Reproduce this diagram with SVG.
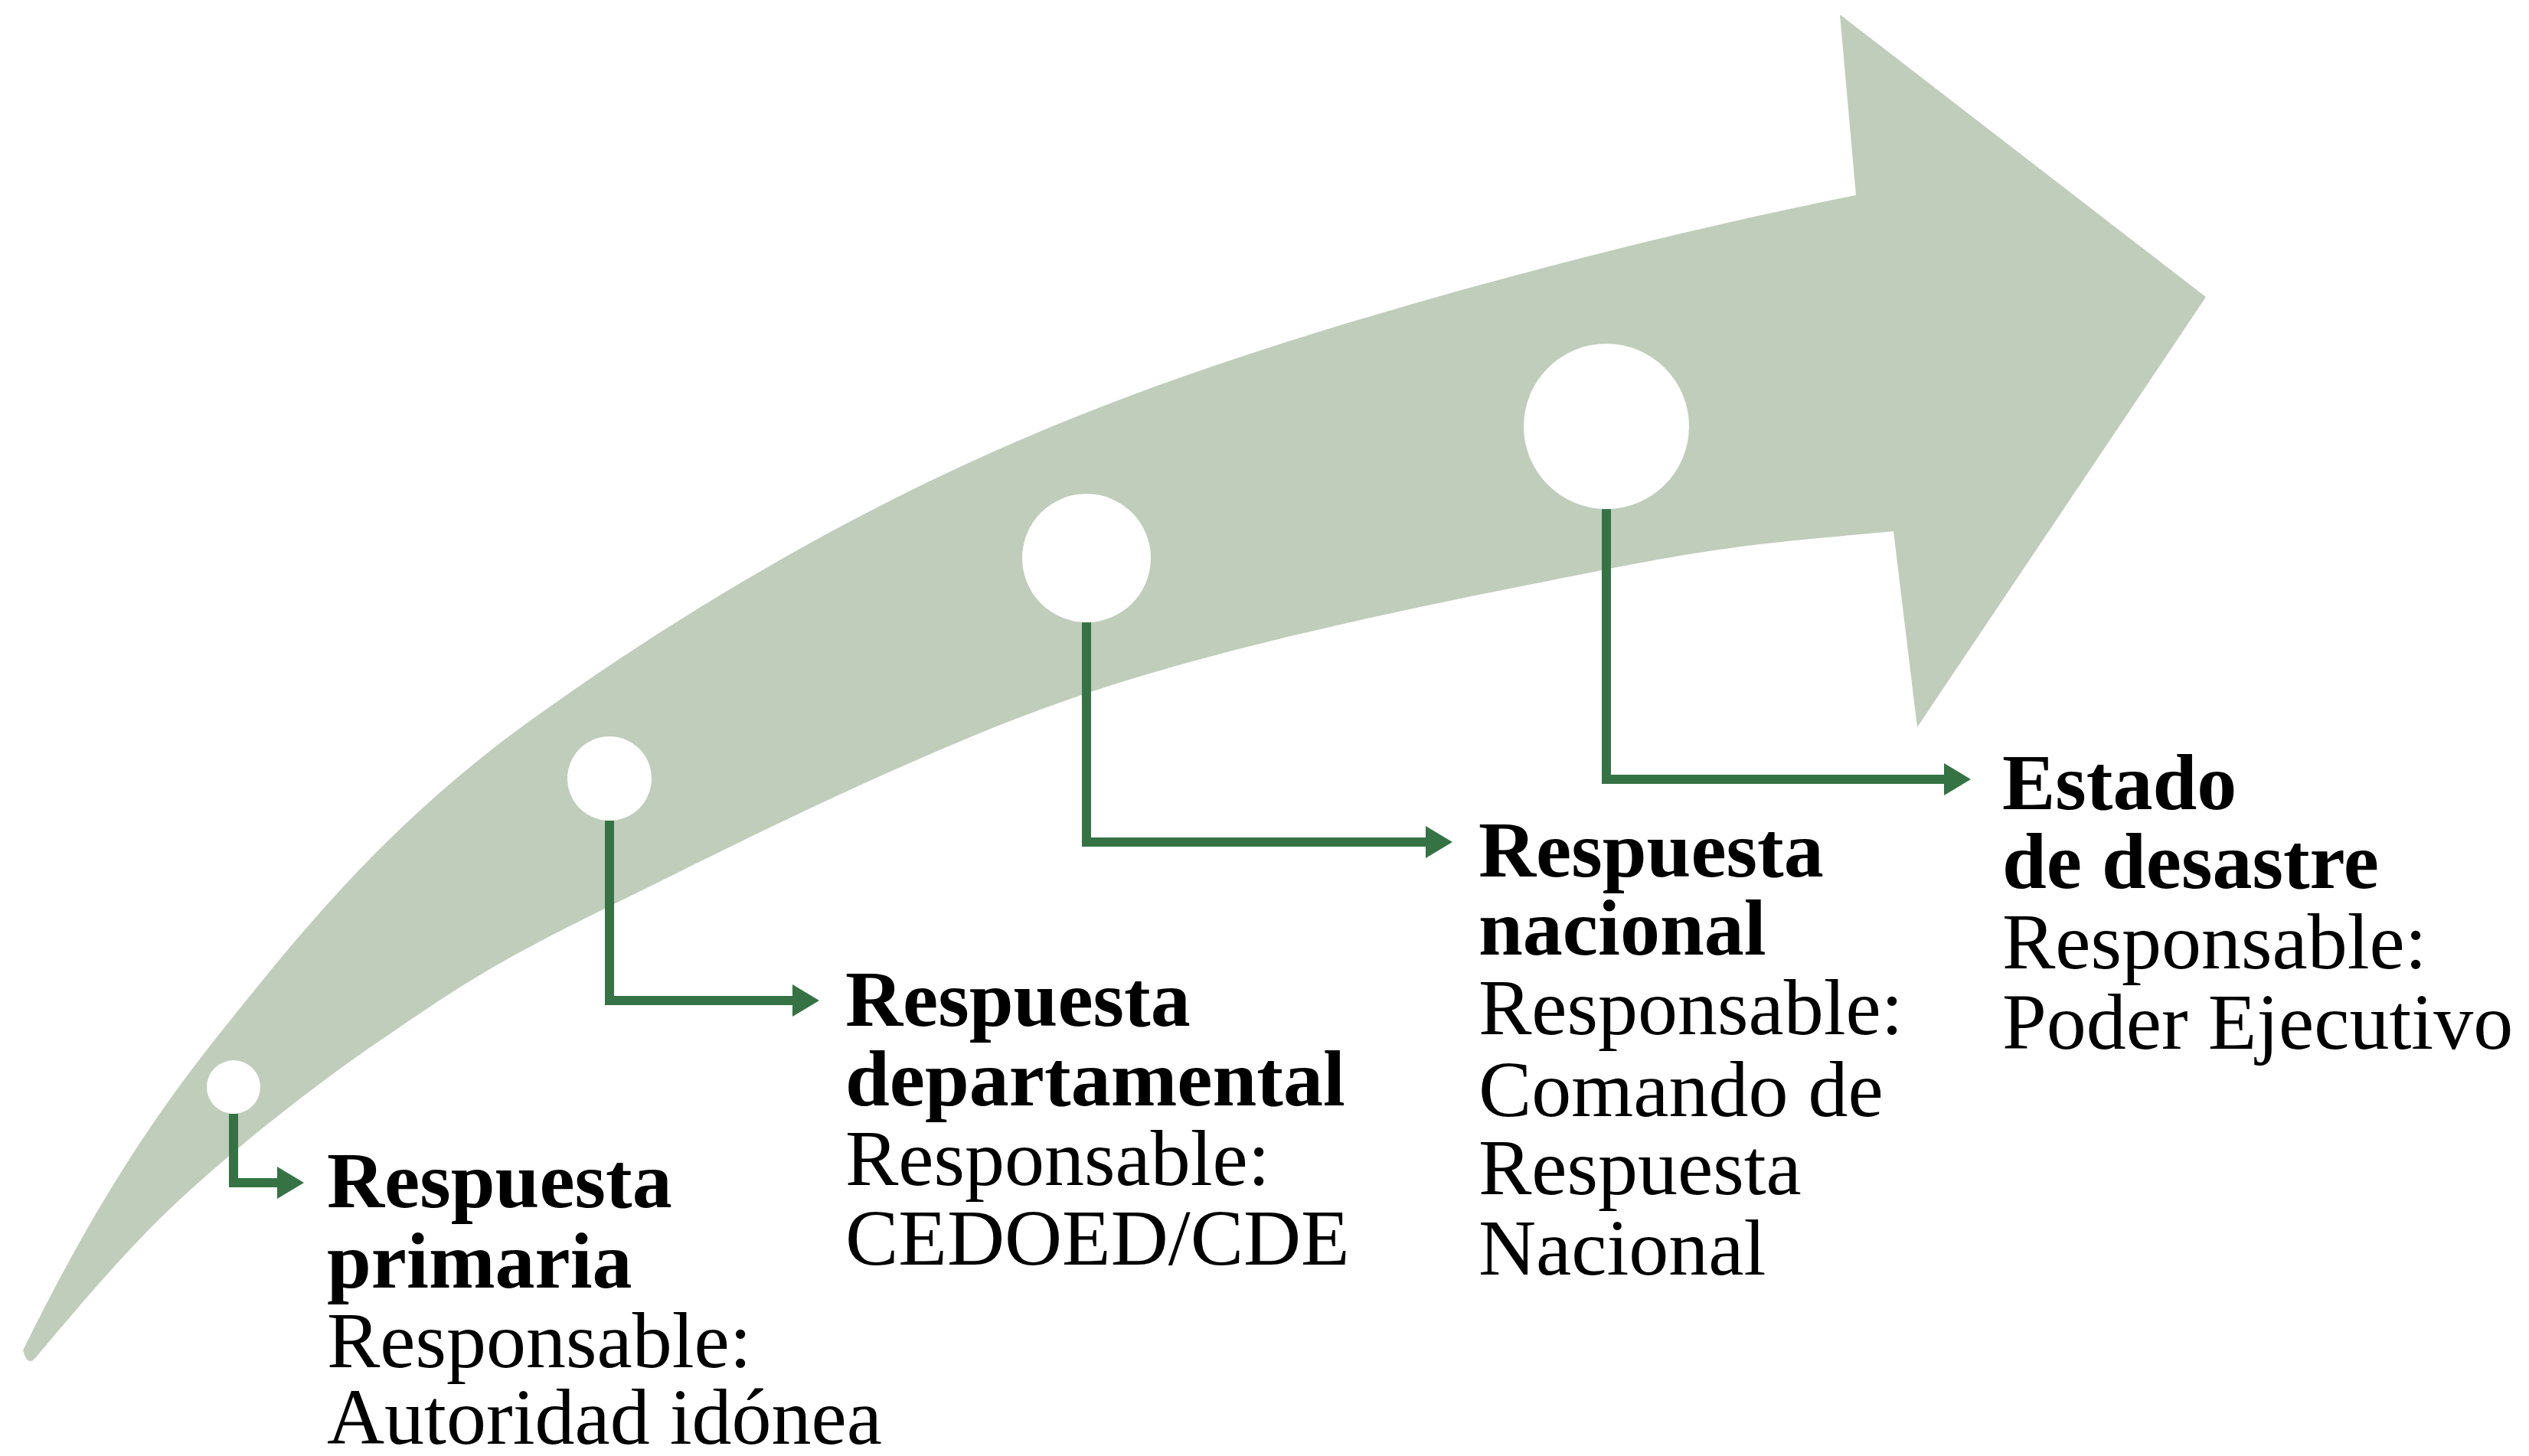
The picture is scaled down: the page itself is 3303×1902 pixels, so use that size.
<svg xmlns="http://www.w3.org/2000/svg" width="3303" height="1902" viewBox="0 0 3303 1902">
  <style>
    .band { fill: #BFCDBA; }
    .dot { fill: #FFFFFF; }
    .conn { fill: none; stroke: #357344; stroke-width: 12; stroke-linejoin: miter; stroke-linecap: butt; }
    .t { font-family: "Liberation Serif", "Times New Roman", serif; font-size: 104px; fill: #000000; }
    .b { font-weight: bold; }
  </style>
  <defs>
    <marker id="ah" viewBox="0 0 35 42" refX="10" refY="21" markerWidth="35" markerHeight="42" markerUnits="userSpaceOnUse" orient="auto">
      <path d="M0,0 L35,21 L0,42 Z" fill="#357344"/>
    </marker>
  </defs>
  <rect width="3303" height="1902" fill="#FFFFFF"/>
  <g id="arrow">
    <path class="band" d="M30,1764 C102,1618 176,1489 287,1350 C398,1211 511,1071 700,936 C889,801 1132,652 1419,539 C1706,425 2124,315 2424,255 L2403,19 L2881,388 L2504,950 L2473,694 C2348,706 2273,709 2097,744 C1921,779 1635,833 1418,906 C1201,979 947,1110 796,1184 C645,1258 601,1288 510,1350 C419,1411 328,1483 250,1553 C172,1623 110,1699 46,1774 Q36,1786 30,1764 Z"/>
  </g>
  <g id="node1">
    <circle class="dot" cx="305" cy="1420" r="35"/>
    <text class="t b" x="427" y="1577">Respuesta</text>
    <text class="t b" x="427" y="1682">primaria</text>
    <text class="t" x="427" y="1786">Responsable:</text>
    <text class="t" x="427" y="1886">Autoridad idónea</text>
  </g>
  <g id="node2">
    <circle class="dot" cx="796" cy="1017" r="55"/>
    <text class="t b" x="1104" y="1340">Respuesta</text>
    <text class="t b" x="1104" y="1444">departamental</text>
    <text class="t" x="1104" y="1548">Responsable:</text>
    <text class="t" x="1104" y="1652">CEDOED/CDE</text>
  </g>
  <g id="node3">
    <circle class="dot" cx="1419" cy="729" r="84"/>
    <text class="t b" x="1931" y="1145">Respuesta</text>
    <text class="t b" x="1931" y="1247">nacional</text>
    <text class="t" x="1931" y="1351">Responsable:</text>
    <text class="t" x="1931" y="1458">Comando de</text>
    <text class="t" x="1931" y="1560">Respuesta</text>
    <text class="t" x="1931" y="1665">Nacional</text>
  </g>
  <g id="node4">
    <circle class="dot" cx="2098" cy="557" r="108"/>
    <text class="t b" x="2615" y="1057">Estado</text>
    <text class="t b" x="2615" y="1160">de desastre</text>
    <text class="t" x="2615" y="1265">Responsable:</text>
    <text class="t" x="2615" y="1370">Poder Ejecutivo</text>
  </g>
  <g id="connectors">
    <path class="conn" d="M305,1455 V1545 H372" marker-end="url(#ah)"/>
    <path class="conn" d="M796,1072 V1307 H1045" marker-end="url(#ah)"/>
    <path class="conn" d="M1419,813 V1100 H1872" marker-end="url(#ah)"/>
    <path class="conn" d="M2098,665 V1018 H2549" marker-end="url(#ah)"/>
  </g>
</svg>
